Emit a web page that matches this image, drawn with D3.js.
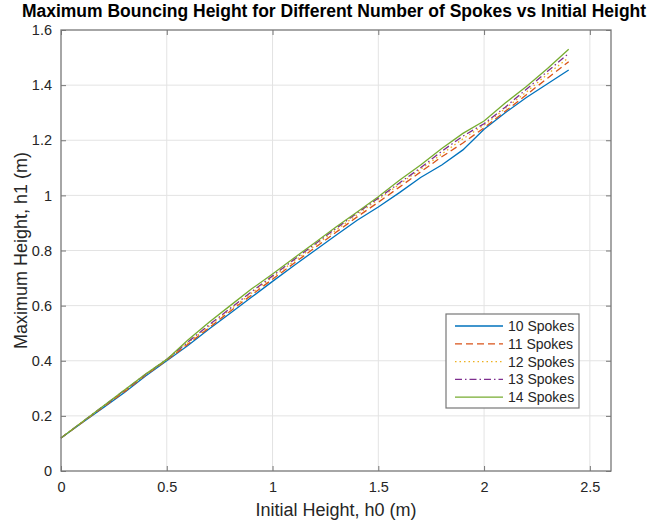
<!DOCTYPE html>
<html>
<head>
<meta charset="utf-8">
<script src="https://cdn.jsdelivr.net/npm/d3@7"></script>
<style>
  body { margin: 0; background: #fff; }
  text { font-family: "Liberation Sans", Arial, sans-serif; }
</style>
</head>
<body>
<div id="chart"></div>
<script>
// data
const h0 = [0, 0.1, 0.2, 0.3, 0.4, 0.5, 0.6, 0.7, 0.8, 0.9, 1.0, 1.1, 1.2,
            1.3, 1.4, 1.5, 1.6, 1.7, 1.8, 1.9, 2.0, 2.1, 2.2, 2.3, 2.4]
const spokes10 = [0.12, 0.175, 0.23, 0.285, 0.345, 0.40, 0.455, 0.515, 0.572, 0.630, 0.688, 0.745, 0.800,
                  0.855, 0.910, 0.958, 1.010, 1.065, 1.110, 1.165, 1.240, 1.300, 1.355, 1.405, 1.455]
const spokes11 = [0.12, 0.176, 0.232, 0.288, 0.348, 0.402, 0.460, 0.520, 0.580, 0.638, 0.696, 0.753, 0.810,
                  0.866, 0.922, 0.975, 1.030, 1.085, 1.140, 1.190, 1.245, 1.305, 1.365, 1.425, 1.485]
const spokes12 = [0.12, 0.177, 0.234, 0.291, 0.350, 0.404, 0.465, 0.525, 0.585, 0.645, 0.703, 0.760, 0.817,
                  0.874, 0.930, 0.985, 1.040, 1.095, 1.150, 1.205, 1.255, 1.315, 1.375, 1.440, 1.500]
const spokes13 = [0.12, 0.178, 0.235, 0.293, 0.351, 0.405, 0.468, 0.530, 0.590, 0.650, 0.708, 0.766, 0.823,
                  0.880, 0.936, 0.990, 1.045, 1.100, 1.160, 1.215, 1.260, 1.320, 1.385, 1.450, 1.515]
const spokes14 = [0.12, 0.178, 0.236, 0.294, 0.352, 0.405, 0.475, 0.540, 0.600, 0.660, 0.715, 0.772, 0.828,
                  0.885, 0.940, 0.995, 1.055, 1.110, 1.170, 1.225, 1.270, 1.335, 1.395, 1.460, 1.530]
const seriesNames = ["10 Spokes", "11 Spokes", "12 Spokes", "13 Spokes", "14 Spokes"]
const xTicks = [0, 0.5, 1, 1.5, 2, 2.5]
const yTicks = [0, 0.2, 0.4, 0.6, 0.8, 1, 1.2, 1.4, 1.6]

const seriesVals = [spokes10, spokes11, spokes12, spokes13, spokes14]
const colors = ["#0072BD", "#D95319", "#EDB120", "#7E2F8E", "#77AC30"]
const dashes = [null, "7,4", "1.5,3", "7,3,1.5,3", null]

const W = 658, H = 524
const m = {left: 61, right: 47, top: 30, bottom: 53}
const w = W - m.left - m.right, h = H - m.top - m.bottom

const svg = d3.select("#chart").append("svg").attr("width", W).attr("height", H)
const g = svg.append("g").attr("transform", `translate(${m.left},${m.top})`)

const x = d3.scaleLinear().domain([0, 2.6]).range([0, w])
const y = d3.scaleLinear().domain([0, 1.6]).range([h, 0])

// grid
g.append("g").selectAll("line").data(xTicks.filter(d => d > 0)).join("line")
  .attr("x1", d => x(d)).attr("x2", d => x(d)).attr("y1", 0).attr("y2", h)
  .attr("stroke", "#e3e3e3").attr("stroke-width", 1)
g.append("g").selectAll("line").data(yTicks.filter(d => d > 0 && d < 1.6)).join("line")
  .attr("y1", d => y(d)).attr("y2", d => y(d)).attr("x1", 0).attr("x2", w)
  .attr("stroke", "#e3e3e3").attr("stroke-width", 1)

// lines
const line = d3.line().x((d, i) => x(h0[i])).y(d => y(d))
seriesVals.forEach((vals, i) => {
  g.append("path").datum(vals)
    .attr("fill", "none")
    .attr("stroke", colors[i])
    .attr("stroke-width", 1.3)
    .attr("stroke-dasharray", dashes[i])
    .attr("d", line)
})

// axes
const axisColor = "#777"
const fmt = d => d3.format("")(d)
const styleAxis = (sel, showText) => {
  sel.select(".domain").remove()
  sel.selectAll(".tick line").attr("stroke", axisColor)
  sel.selectAll(".tick text").attr("fill", "#262626").attr("font-size", "14.5px")
    .style("display", showText ? null : "none")
}
g.append("g").attr("transform", `translate(0,${h})`)
  .call(d3.axisBottom(x).tickValues(xTicks).tickFormat(fmt).tickSizeInner(-5).tickPadding(11))
  .call(s => styleAxis(s, true))
g.append("g")
  .call(d3.axisTop(x).tickValues(xTicks).tickSizeInner(-5))
  .call(s => styleAxis(s, false))
g.append("g")
  .call(d3.axisLeft(y).tickValues(yTicks).tickFormat(fmt).tickSizeInner(-5).tickPadding(9))
  .call(s => styleAxis(s, true))
g.append("g").attr("transform", `translate(${w},0)`)
  .call(d3.axisRight(y).tickValues(yTicks).tickSizeInner(-5))
  .call(s => styleAxis(s, false))
g.append("rect").attr("width", w).attr("height", h)
  .attr("fill", "none").attr("stroke", axisColor).attr("stroke-width", 1.3)

// titles
svg.append("text").attr("x", 334).attr("y", 17).attr("text-anchor", "middle")
  .attr("font-size", "17.5px").attr("font-weight", "bold").attr("fill", "#000")
  .text("Maximum Bouncing Height for Different Number of Spokes vs Initial Height")
svg.append("text").attr("x", m.left + w / 2).attr("y", 516).attr("text-anchor", "middle")
  .attr("font-size", "18px").attr("fill", "#262626")
  .text("Initial Height, h0 (m)")
svg.append("text").attr("transform", `translate(27,${m.top + h / 2}) rotate(-90)`)
  .attr("text-anchor", "middle").attr("font-size", "18px").attr("fill", "#262626")
  .text("Maximum Height, h1 (m)")

// legend
const lg = svg.append("g").attr("transform", "translate(446,314)")
lg.append("rect").attr("width", 133).attr("height", 94)
  .attr("fill", "#fff").attr("stroke", axisColor).attr("stroke-width", 1.2)
seriesNames.forEach((name, i) => {
  const yy = 12 + i * 17.8
  lg.append("line").attr("x1", 9).attr("x2", 57).attr("y1", yy).attr("y2", yy)
    .attr("stroke", colors[i]).attr("stroke-width", 1.3).attr("stroke-dasharray", dashes[i])
  lg.append("text").attr("x", 62).attr("y", yy + 5).attr("font-size", "14px")
    .attr("fill", "#262626").text(name)
})
</script>
</body>
</html>
